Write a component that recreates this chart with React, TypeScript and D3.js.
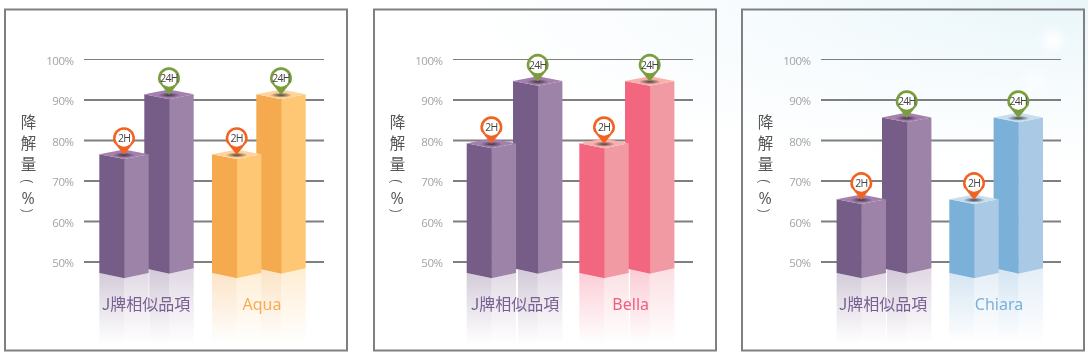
import React from "react";
import * as d3 from "d3";

const ticks = [50, 60, 70, 80, 90, 100];
const hours = ["2H", "24H"];
const baseName = "J牌相似品項";
const productNames = ["Aqua", "Bella", "Chiara"];
const baseValues = [[76.6, 91.4], [79.3, 94.7], [65.5, 85.7]];
const productValues = [[76.6, 91.4], [79.3, 94.7], [65.5, 85.7]];
const panelLefts = [5, 374, 742];
const barOffsets = [
  [94.3, 139.3, 207, 251.3],
  [92.7, 139, 205.3, 251],
  [94.6, 140, 207.3, 251.6],
];
const productLabelX = [257, 256.7, 257];
const baseLabelX = [141, 141, 141];
const axisChars = ["降", "解", "量"];

type Pal = { dark: string; light: string; top: string; text: string };
const purple: Pal = { dark: "#755d88", light: "#9e83a8", top: "#a57fae", text: "#7a6093" };
const palettes: Pal[] = [
  { dark: "#f6aa50", light: "#fec774", top: "#fed39c", text: "#f8ab55" },
  { dark: "#f2667f", light: "#f19aa4", top: "#f9b1ab", text: "#ec5f7e" },
  { dark: "#7bb1d8", light: "#aac9e5", top: "#c9ddf0", text: "#7bb1d8" },
];

const PW = 342;
const y = d3.scaleLinear().domain([50, 100]).range([262, 59.5]);
const base = 47.3; // visual bottom of the bars
const path = d3.line();
const face = (pts: [number, number][]) => (path(pts) as string) + "Z";

function Bar({ x, value, pal, drop, pin, gid }: { x: number; value: number; pal: Pal; drop: number; pin: string; gid: string }) {
  const w = 24.7;
  const d = 4.8;
  const top = y(value);
  const bot = y(base) + drop;
  const cx = x + w;
  const R = x + 2 * w;
  const rx = drop < 0 ? x + 5 : x; // the rear bar's reflection starts where the front bar's ends
  const ry = bot + ((rx - x) / w) * (d + 0.6);
  const pinColor = pin === "2H" ? "#f26322" : "#7a9e3c";
  return (
    <g>
      <path d={face([[rx, ry], [cx, bot + d + 0.6], [cx, 344], [rx, 344]])} fill={`url(#${gid}d)`} />
      <path d={face([[cx, bot + d + 0.6], [R, bot], [R, 344], [cx, 344]])} fill={`url(#${gid}l)`} />
      <path d={face([[cx, top + d], [R, top], [R, bot], [cx, bot + d + 0.6]])} fill={pal.light} />
      <path d={face([[x, top], [cx + 0.4, top + d], [cx + 0.4, bot + d + 0.6], [x, bot]])} fill={pal.dark} />
      <path d={face([[x, top], [cx, top - d], [R, top], [cx, top + d]])} fill={pal.top} />
      <ellipse cx={cx} cy={top + 0.8} rx={11} ry={2.6} fill="url(#pinShadow)" />
      <path d={`M${cx - 10.2} ${top - 12} A11 11 0 1 1 ${cx + 10.2} ${top - 12} L${cx} ${top + 0.5} Z`} fill={pinColor} />
      <circle cx={cx} cy={top - 16} r={8.4} fill="#fff" />
      <text x={cx} y={top - 12.4} textAnchor="middle" fontSize={10.5} letterSpacing={-0.8} fill="#444" fontFamily="'Open Sans', sans-serif">{pin}</text>
    </g>
  );
}

function Panel({ i }: { i: number }) {
  const left = panelLefts[i];
  const pal = palettes[i];
  const offs = barOffsets[i];
  const gs = [`p${i}a`, `p${i}b`];
  return (
    <g transform={`translate(${left},0)`}>
      <defs>
        {[{ id: gs[0], p: purple }, { id: gs[1], p: pal }].map(({ id, p }) => (
          <React.Fragment key={id}>
            <linearGradient id={`${id}d`} gradientUnits="userSpaceOnUse" x1={0} x2={0} y1={272} y2={344}>
              <stop offset="0" stopColor={p.dark} stopOpacity={0.32} />
              <stop offset="1" stopColor={p.dark} stopOpacity={0} />
            </linearGradient>
            <linearGradient id={`${id}l`} gradientUnits="userSpaceOnUse" x1={0} x2={0} y1={272} y2={344}>
              <stop offset="0" stopColor={p.light} stopOpacity={0.3} />
              <stop offset="1" stopColor={p.light} stopOpacity={0} />
            </linearGradient>
          </React.Fragment>
        ))}
      </defs>
      <rect x={0} y={9.5} width={PW} height={341} fill="none" stroke="#808080" strokeWidth={2} />
      {ticks.map((t) => (
        <g key={t}>
          <line x1={79} x2={319} y1={y(t)} y2={y(t)} stroke="#7f7f7f" strokeWidth={t === 100 ? 1 : 2} />
          <text x={68.5} y={y(t) + 5} textAnchor="end" fontSize={11.5} letterSpacing={-0.5} fill="#a3a3a3" fontFamily="'Open Sans', sans-serif">{t}%</text>
        </g>
      ))}
      <g fontFamily="'Noto Sans CJK TC', sans-serif" fontSize={15.5} fill="#555" textAnchor="middle">
        {axisChars.map((c, k) => (
          <text key={c} x={23.5} y={127.5 + k * 21}>{c}</text>
        ))}
        <text x={22.8} y={181.5} fontFamily="'Noto Sans', sans-serif" fontSize={14} fontWeight={300} dominantBaseline="central" transform="rotate(90 22.8 181.5)">(</text>
        <text x={23} y={203.5} fontFamily="'Open Sans', sans-serif" fontSize={16}>%</text>
        <text x={22.8} y={210.5} fontFamily="'Noto Sans', sans-serif" fontSize={14} fontWeight={300} dominantBaseline="central" transform="rotate(90 22.8 210.5)">)</text>
      </g>
      <Bar x={offs[1]} value={baseValues[i][1]} pal={purple} drop={-4.6} pin={hours[1]} gid={gs[0]} />
      <Bar x={offs[0]} value={baseValues[i][0]} pal={purple} drop={0} pin={hours[0]} gid={gs[0]} />
      <Bar x={offs[3]} value={productValues[i][1]} pal={pal} drop={-4.6} pin={hours[1]} gid={gs[1]} />
      <Bar x={offs[2]} value={productValues[i][0]} pal={pal} drop={0} pin={hours[0]} gid={gs[1]} />
      <text x={baseLabelX[i]} y={310} textAnchor="middle" fontSize={16} fill={purple.text} fontFamily="'Noto Sans CJK TC', sans-serif">{baseName}</text>
      <text x={productLabelX[i]} y={310} textAnchor="middle" fontSize={16} fill={pal.text} fontFamily="'Noto Sans', sans-serif">{productNames[i]}</text>
    </g>
  );
}

export default function App() {
  return (
    <svg width={1088} height={357} style={{ position: "fixed", left: 0, top: 0 }}>
      <defs>
        <radialGradient id="pageBg" gradientUnits="userSpaceOnUse" cx={0} cy={0} r={1} gradientTransform="translate(1088,0) scale(640,170)">
          <stop offset="0" stopColor="#e9f6fa" />
          <stop offset="0.5" stopColor="#f6fbfd" />
          <stop offset="1" stopColor="#ffffff" />
        </radialGradient>
        <radialGradient id="pinShadow">
          <stop offset="0" stopColor="#2b2b2b" stopOpacity={0.85} />
          <stop offset="1" stopColor="#2b2b2b" stopOpacity={0} />
        </radialGradient>
        <filter id="blob" x="-50%" y="-50%" width="200%" height="200%">
          <feGaussianBlur stdDeviation="4" />
        </filter>
      </defs>
      <rect width={1088} height={357} fill="url(#pageBg)" />
      <circle cx={1053} cy={41} r={10} fill="#fff" opacity={0.9} filter="url(#blob)" />
      <circle cx={1035} cy={82} r={11} fill="#fff" opacity={0.5} filter="url(#blob)" />
      {panelLefts.map((_, i) => <Panel key={i} i={i} />)}
    </svg>
  );
}
